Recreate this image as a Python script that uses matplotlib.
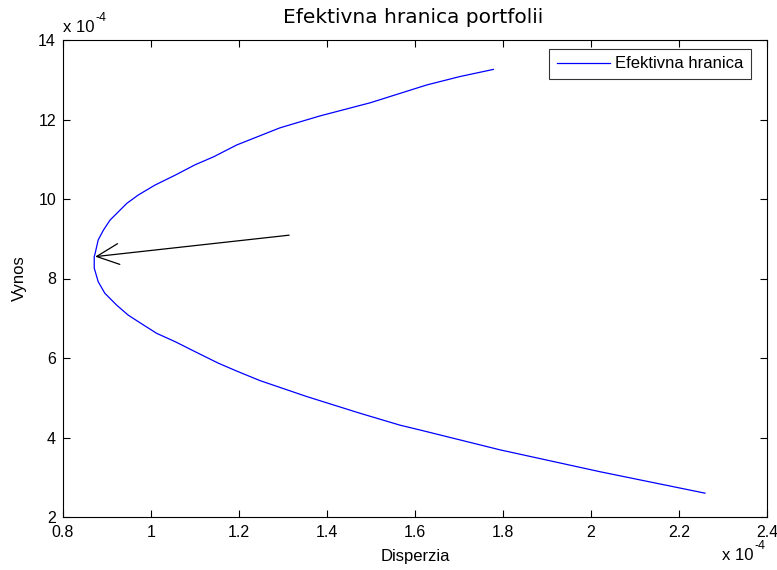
import matplotlib
matplotlib.use("Agg")
import matplotlib.pyplot as plt

plt.rcParams['font.family'] = ['Liberation Sans', 'DejaVu Sans']

# Frontier points (dispersion x1e-4, return x1e-4)
disperzia = [1.778, 1.702, 1.627, 1.498, 1.384, 1.293, 1.195, 1.142, 1.100,
             1.055, 1.009, 0.971, 0.945, 0.926, 0.907, 0.892, 0.880, 0.873,
             0.871, 0.871, 0.880, 0.895, 0.922, 0.948, 0.983, 1.013, 1.055,
             1.100, 1.153, 1.195, 1.248, 1.354, 1.475, 1.566, 1.611, 1.793,
             2.020, 2.259]
vynos = [13.26, 13.08, 12.87, 12.42, 12.09, 11.79, 11.36, 11.06, 10.86,
         10.60, 10.35, 10.10, 9.89, 9.68, 9.47, 9.22, 8.97, 8.63,
         8.55, 8.26, 7.92, 7.63, 7.33, 7.08, 6.83, 6.62, 6.41,
         6.16, 5.87, 5.67, 5.43, 5.03, 4.61, 4.31, 4.19, 3.69,
         3.14, 2.60]

arrow_tail = (1.314, 9.09)
arrow_head = (0.873, 8.55)

xticks = [0.8, 1.0, 1.2, 1.4, 1.6, 1.8, 2.0, 2.2, 2.4]
xticklabels = ['0.8', '1', '1.2', '1.4', '1.6', '1.8', '2', '2.2', '2.4']
yticks = [2, 4, 6, 8, 10, 12, 14]

W, H = 777, 570
fig = plt.figure(figsize=(W / 100, H / 100), dpi=100)
ax = fig.add_axes([63 / W, 1 - 517 / H, (767 - 63) / W, (517 - 40) / H])

ax.plot(disperzia, vynos, color=(0, 0, 1), lw=0.9, label='Efektivna hranica')
ax.annotate('', xy=arrow_head, xytext=arrow_tail,
            arrowprops=dict(arrowstyle='->,head_length=1.6,head_width=0.75',
                            color='black', lw=0.9, mutation_scale=10,
                            shrinkA=0, shrinkB=0))

ax.set_xlim(0.8, 2.4)
ax.set_ylim(2, 14)
ax.set_xticks(xticks)
ax.set_xticklabels(xticklabels)
ax.set_yticks(yticks)
ax.tick_params(direction='in', length=5, width=0.8, top=True, right=True,
               labelsize=11.5, colors='black')
ax.tick_params(axis='x', pad=6)
ax.tick_params(axis='y', pad=5)
for s in ax.spines.values():
    s.set_linewidth(0.8)

fig.text(413 / W, 1 - 23 / H, 'Efektivna hranica portfolii', fontsize=14.5,
         family=['DejaVu Sans'], ha='center', va='baseline')
ax.set_xlabel('Disperzia', fontsize=12, labelpad=6)
ax.set_ylabel('Vynos', fontsize=12, labelpad=8)

# exponent labels
t1 = fig.text(63 / W, 1 - 32 / H, 'x 10', fontsize=12, ha='left', va='baseline')
ax.annotate('-4', xy=(1, 0.72), xycoords=t1, xytext=(0.5, 0),
            textcoords='offset points', fontsize=9, ha='left', va='bottom')
t2 = fig.text(722 / W, 1 - 560 / H, 'x 10', fontsize=12, ha='left', va='baseline')
ax.annotate('-4', xy=(1, 0.72), xycoords=t2, xytext=(0.5, 0),
            textcoords='offset points', fontsize=9, ha='left', va='bottom')

leg = ax.legend(loc='upper right', bbox_to_anchor=(751 / W, 1 - 49 / H),
                bbox_transform=fig.transFigure, fontsize=12, frameon=True,
                fancybox=False, edgecolor='black', borderaxespad=0,
                handlelength=3.2, handletextpad=0.3, borderpad=0.45)
leg.get_frame().set_linewidth(0.8)

fig.savefig('out.png', dpi=100)
